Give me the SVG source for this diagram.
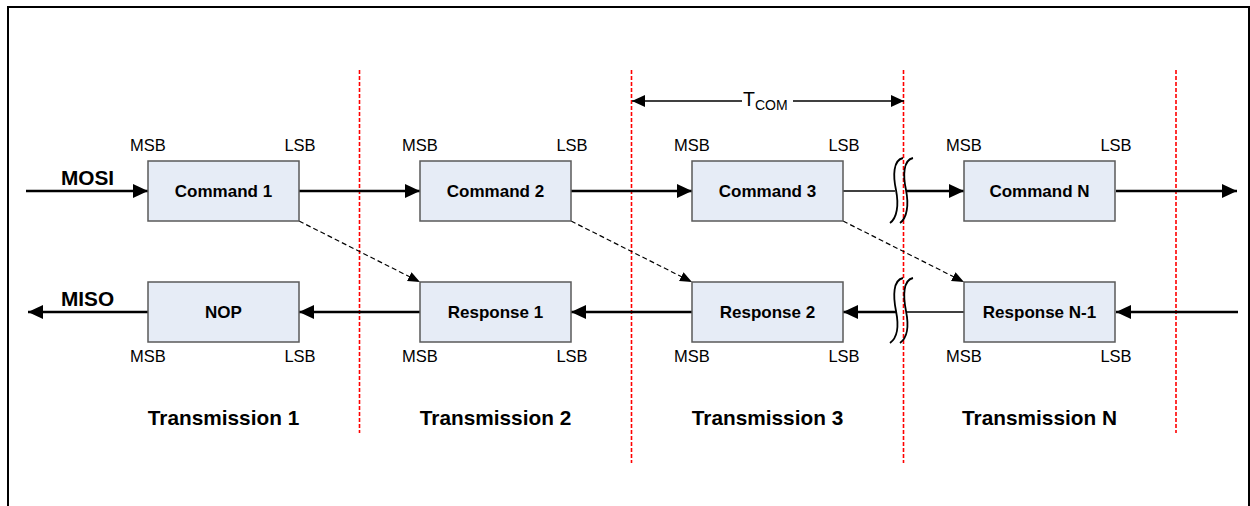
<svg xmlns="http://www.w3.org/2000/svg" width="1250" height="506" viewBox="0 0 1250 506">
<defs>
<marker id="ah" markerUnits="userSpaceOnUse" markerWidth="16" markerHeight="16" refX="15" refY="7" orient="auto">
<path d="M0,0 L15,7 L0,14 z" fill="#000"/>
</marker>
<marker id="ahs" markerUnits="userSpaceOnUse" markerWidth="14" markerHeight="14" refX="13" refY="6" orient="auto">
<path d="M0,0 L13,6 L0,12 z" fill="#000"/>
</marker>
<marker id="ad" markerUnits="userSpaceOnUse" markerWidth="14" markerHeight="12" refX="12" refY="5" orient="auto">
<path d="M0,0 L12,5 L0,10 z" fill="#000"/>
</marker>
<style>
.box{fill:#E6ECF6;stroke:#5A5A5A;stroke-width:1.5}
.bt{font-family:"Liberation Sans",Arial,sans-serif;font-weight:bold;font-size:17px;text-anchor:middle;fill:#000}
.bit{font-family:"Liberation Sans",Arial,sans-serif;font-size:16.5px;text-anchor:middle;fill:#000}
.lbl{font-family:"Liberation Sans",Arial,sans-serif;font-weight:bold;font-size:20.8px;text-anchor:middle;fill:#000}
.sep{stroke:#FF0000;stroke-width:1.6;stroke-dasharray:4 2;fill:none}
.wire{stroke:#000;stroke-width:2.5;fill:none}
.thin{stroke:#000;stroke-width:1.5;fill:none}
.dash{stroke:#000;stroke-width:1.2;stroke-dasharray:5 3;fill:none}
.brk{stroke:#000;stroke-width:1.8;fill:none}
</style>
</defs>
<rect x="8" y="7" width="1241" height="530" fill="#fff" stroke="#000" stroke-width="2"/>

<g id="separators">
<line class="sep" x1="359.5" y1="70" x2="359.5" y2="433"/>
<line class="sep" x1="631.5" y1="70" x2="631.5" y2="463"/>
<line class="sep" x1="903.5" y1="70" x2="903.5" y2="463"/>
<line class="sep" x1="1176" y1="70" x2="1176" y2="433"/>
</g>

<g id="connectors">
<line class="wire" x1="26" y1="191" x2="148" y2="191" marker-end="url(#ah)"/>
<line class="wire" x1="299" y1="191" x2="420" y2="191" marker-end="url(#ah)"/>
<line class="wire" x1="571" y1="191" x2="692" y2="191" marker-end="url(#ah)"/>
<line class="thin" x1="843" y1="191" x2="895" y2="191"/>
<line class="wire" x1="906" y1="191" x2="964" y2="191" marker-end="url(#ah)"/>
<line class="wire" x1="1116" y1="191" x2="1237" y2="191" marker-end="url(#ah)"/>

<line class="wire" x1="1238" y1="312" x2="1116" y2="312" marker-end="url(#ah)"/>
<line class="thin" x1="964" y1="312" x2="906" y2="312"/>
<line class="wire" x1="897" y1="312" x2="843" y2="312" marker-end="url(#ah)"/>
<line class="wire" x1="692" y1="312" x2="571" y2="312" marker-end="url(#ah)"/>
<line class="wire" x1="420" y1="312" x2="299" y2="312" marker-end="url(#ah)"/>
<line class="wire" x1="148" y1="312" x2="28" y2="312" marker-end="url(#ah)"/>

<line class="dash" x1="299" y1="221" x2="420" y2="282" marker-end="url(#ad)"/>
<line class="dash" x1="571" y1="221" x2="692" y2="282" marker-end="url(#ad)"/>
<line class="dash" x1="843" y1="221" x2="964" y2="282" marker-end="url(#ad)"/>

<line class="thin" x1="742" y1="101" x2="632" y2="101" marker-end="url(#ahs)"/>
<line class="thin" x1="793" y1="101" x2="904" y2="101" marker-end="url(#ahs)"/>

<path class="brk" d="M903,158 C893,160 893,176 896,190 C899,205 897,218 890,223"/>
<path class="brk" d="M913,158 C903,160 903,176 906,190 C909,205 907,218 900,223"/>
<path class="brk" d="M903,278 C893,280 893,296 896,311 C899,326 897,338 890,343"/>
<path class="brk" d="M913,278 C903,280 903,296 906,311 C909,326 907,338 900,343"/>
</g>

<g id="tcom">
<text font-family="Liberation Sans, Arial, sans-serif" font-size="19.5" x="743" y="106">T<tspan font-size="14" dy="4">COM</tspan></text>
</g>

<g id="mosi"><text class="lbl" x="87.5" y="185">MOSI</text></g>
<g id="miso"><text class="lbl" x="87.5" y="306">MISO</text></g>

<g id="cmd1"><rect class="box" x="148" y="161" width="151" height="60"/><text class="bt" x="223.5" y="197">Command 1</text><text class="bit" x="148" y="151">MSB</text><text class="bit" x="300" y="151">LSB</text></g>
<g id="cmd2"><rect class="box" x="420" y="161" width="151" height="60"/><text class="bt" x="495.5" y="197">Command 2</text><text class="bit" x="420" y="151">MSB</text><text class="bit" x="572" y="151">LSB</text></g>
<g id="cmd3"><rect class="box" x="692" y="161" width="151" height="60"/><text class="bt" x="767.5" y="197">Command 3</text><text class="bit" x="692" y="151">MSB</text><text class="bit" x="844" y="151">LSB</text></g>
<g id="cmdn"><rect class="box" x="964" y="161" width="151" height="60"/><text class="bt" x="1039.5" y="197">Command N</text><text class="bit" x="964" y="151">MSB</text><text class="bit" x="1116" y="151">LSB</text></g>

<g id="nop"><rect class="box" x="148" y="282" width="151" height="60"/><text class="bt" x="223.5" y="318">NOP</text><text class="bit" x="148" y="362">MSB</text><text class="bit" x="300" y="362">LSB</text></g>
<g id="resp1"><rect class="box" x="420" y="282" width="151" height="60"/><text class="bt" x="495.5" y="318">Response 1</text><text class="bit" x="420" y="362">MSB</text><text class="bit" x="572" y="362">LSB</text></g>
<g id="resp2"><rect class="box" x="692" y="282" width="151" height="60"/><text class="bt" x="767.5" y="318">Response 2</text><text class="bit" x="692" y="362">MSB</text><text class="bit" x="844" y="362">LSB</text></g>
<g id="respn"><rect class="box" x="964" y="282" width="151" height="60"/><text class="bt" x="1039.5" y="318">Response N-1</text><text class="bit" x="964" y="362">MSB</text><text class="bit" x="1116" y="362">LSB</text></g>

<g id="trans1"><text class="lbl" x="223.5" y="425">Transmission 1</text></g>
<g id="trans2"><text class="lbl" x="495.5" y="425">Transmission 2</text></g>
<g id="trans3"><text class="lbl" x="767.5" y="425">Transmission 3</text></g>
<g id="transn"><text class="lbl" x="1039.5" y="425">Transmission N</text></g>
</svg>
